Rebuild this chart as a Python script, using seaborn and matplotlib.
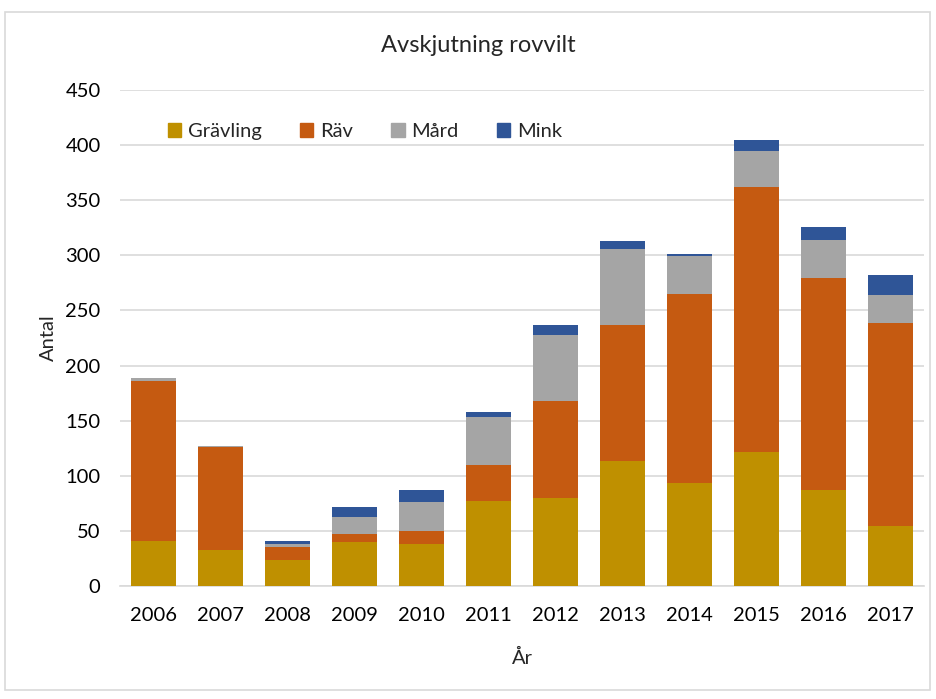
import matplotlib
matplotlib.use("Agg")
import matplotlib.pyplot as plt
import seaborn as sns
import numpy as np
import pandas as pd
from matplotlib.patches import Rectangle

years = ["2006", "2007", "2008", "2009", "2010", "2011", "2012", "2013", "2014", "2015", "2016", "2017"]
gravling = [41, 33, 24, 40, 38, 77, 80, 113, 93, 122, 87, 54]
rav = [145, 93, 11, 7, 12, 33, 88, 124, 172, 240, 192, 185]
mard = [3, 1, 3, 16, 26, 43, 60, 69, 34, 33, 35, 25]
mink = [0, 0, 3, 9, 11, 5, 9, 7, 2, 10, 12, 18]

series_names = ["Grävling", "Räv", "Mård", "Mink"]
series_values = [gravling, rav, mard, mink]
colors = ["#BF9000", "#C55A11", "#A5A5A5", "#2F5597"]

sns.set_theme(style="white")
plt.rcParams["font.family"] = ["Lato", "DejaVu Sans"]

fig = plt.figure(figsize=(9.37, 6.99), dpi=100)
ax = fig.add_axes([120 / 937, 1 - 586 / 699, (924 - 120) / 937, (586 - 90) / 699])

cum = np.cumsum(np.array(series_values), axis=0)
df = pd.DataFrame({"År": years})
for i in range(len(series_names) - 1, -1, -1):
    df["v"] = cum[i]
    sns.barplot(data=df, x="År", y="v", color=colors[i], width=0.67,
                saturation=1, ax=ax, zorder=3, edgecolor="none", linewidth=0)

ax.set_ylim(0, 450)
ax.set_xlim(-0.5, len(years) - 0.5)
ax.set_yticks(range(0, 451, 50))
ax.yaxis.grid(True, color="#D9D9D9", linewidth=1.2, zorder=0)
ax.xaxis.grid(False)
for s in ["top", "right", "left"]:
    ax.spines[s].set_visible(False)
ax.spines["bottom"].set_color("#D9D9D9")
ax.spines["bottom"].set_linewidth(1.2)
ax.tick_params(axis="both", length=0, labelsize=14.5, colors="#000000")
ax.tick_params(axis="y", pad=14)
ax.tick_params(axis="x", pad=15)
ax.set_xlabel("År", fontsize=14.5, labelpad=18)
ax.set_ylabel("Antal", fontsize=14.5, labelpad=6)

handles = [Rectangle((0, 0), 1, 1, color=c) for c in colors]
leg = ax.legend(handles, series_names, ncol=4, frameon=False, fontsize=14.5,
                loc="upper left", bbox_to_anchor=(0.037, 0.97),
                handlelength=0.65, handleheight=0.65, handletextpad=0.35,
                columnspacing=1.9)

fig.text(478 / 937, 1 - 45 / 699, "Avskjutning rovvilt", ha="center", va="center", fontsize=17)

border = Rectangle((5 / 937, 1 - 690 / 699), 925 / 937, 678 / 699, transform=fig.transFigure,
                   fill=False, edgecolor="#D9D9D9", linewidth=1.2)
fig.patches.append(border)

fig.savefig("out.png", dpi=100)
